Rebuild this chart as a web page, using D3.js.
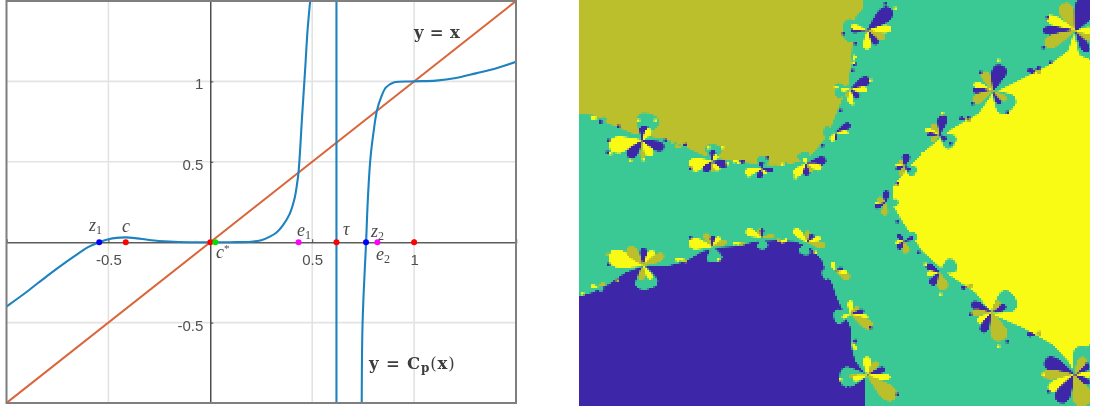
<!DOCTYPE html>
<html>
<head>
<meta charset="utf-8">
<script src="https://cdn.jsdelivr.net/npm/d3@7"></script>
<style>
  body { margin: 0; background: #fff; }
  svg { display: block; }
  .tick text { font-family: "Liberation Sans", Arial, sans-serif; font-size: 15px; fill: #505050; }
  .math { font-family: "Liberation Serif", serif; font-style: italic; font-size: 18px; fill: #4a4a4a; }
  .eq { font-family: "DejaVu Serif", serif; font-weight: bold; font-size: 16.5px; fill: #3c3c3c; }
</style>
</head>
<body>
<script>
// left panel: values
var xTicks = [-0.5, 0.5, 1];
var yTicks = [-0.5, 0.5, 1];

// y = Cp(x), left of the pole
var branchLeftX = [-1, -0.9, -0.8, -0.7, -0.65, -0.6, -0.545, -0.5, -0.46, -0.415, -0.36, -0.3, -0.2, -0.1, 0, 0.1, 0.2, 0.25, 0.29, 0.325, 0.356, 0.389, 0.414, 0.4234, 0.433, 0.4512, 0.466, 0.477, 0.49];
var branchLeftY = [-0.4, -0.308, -0.209, -0.116, -0.072, -0.031, 0, 0.018, 0.027, 0.03, 0.024, 0.014, 0.004, 0, 0, 0, 0.003, 0.012, 0.033, 0.06, 0.105, 0.175, 0.275, 0.343, 0.436, 0.798, 1.087, 1.314, 1.5];
// y = Cp(x), right of the pole
var branchRightX = [0.743, 0.746, 0.752, 0.7645, 0.772, 0.785, 0.8, 0.818, 0.838, 0.862, 0.903, 1, 1.107, 1.205, 1.303, 1.4, 1.5];
var branchRightY = [-1, -0.565, -0.33, 0, 0.24, 0.51, 0.675, 0.82, 0.9, 0.963, 0.994, 1, 1.005, 1.021, 1.05, 1.08, 1.122];
var poleX = 0.619;

var diagonal = [-1, 1.5];

var redPoints = [-0.415, 0, 0.619, 1];
var bluePoints = [-0.545, 0.764];
var magentaPoints = [0.433, 0.82];
var greenPoints = [0.025];

// right panel: basin outlines and flowers, in pixels of the source image
var oliveBasin = [[0,113],[16,115],[26,122],[39,127],[53,133],[63,135],[83,138],[96,142],[109,148],[124,155],[139,158],[156,161],[173,163],[193,165],[213,163],[226,159],[236,150],[244,140],[251,128],[256,115],[261,103],[269,83],[271,67],[273,43],[276,17],[284,7],[284,0],[0,0]];
var navyBasin = [[0,296],[13,292],[29,284],[46,272],[63,266],[86,266],[106,261],[123,251],[139,247],[156,246],[176,241],[196,240],[216,241],[233,249],[243,261],[246,271],[253,284],[256,294],[259,301],[271,327],[271,344],[276,361],[286,374],[286,406],[0,406]];
var yellowBasin = [[494,33],[501,52],[511,60],[511,344],[499,350],[496,374],[489,361],[473,344],[443,327],[413,314],[396,292],[369,274],[343,251],[323,221],[313,204],[313,187],[326,170],[346,150],[373,128],[399,113],[413,93],[439,80],[469,65],[489,50]];

var flowerCenters = [
  [63,140],[133,161],[182,168],[227,163],[288,30],[271,89],[256,132],[413,90],[360,134],[325,166],[306,202],[496,30],
  [495,374],[412,312],[360,272],[325,241],[271,314],[288,375],[256,271],[64,265],[133,246],[182,237],[228,242],
  [19,118],[103,146],[159,161],[203,164],[254,87],[273,60],[456,70],[386,118],[388,287],[456,334],[274,344],[19,286],[103,259],[159,243],[203,240]
];
// petal: [angle in degrees, length, width, basin], 1 navy, 2 teal, 3 olive, 4 yellow
var flowerPetals = [
  [[-75,28,22,2],[-80,15,9,1],[-55,14,6,4],[170,34,16,4],[130,22,10,1],[90,18,4,3],[60,18,8,4],[20,23,9,1]],
  [[-85,17,16,2],[-88,12,5,1],[-55,8,4,4],[170,24,13,4],[130,13,7,1],[90,11,3,3],[55,11,5,4],[15,15,7,1]],
  [[-80,12,12,2],[-90,7,4,1],[165,17,7,4],[105,10,5,1],[50,7,3,4],[10,12,4,1]],
  [[-110,12,12,2],[-10,20,8,1],[18,16,6,4],[135,17,8,4],[90,12,6,1],[55,11,3,3],[-110,6,4,4]],
  [[180,25,22,2],[-42,32,14,1],[-5,24,7,4],[25,19,7,3],[55,17,6,1],[92,19,7,4],[180,17,4,1],[-165,17,5,4]],
  [[175,16,14,2],[-30,22,9,1],[0,17,5,4],[45,12,5,1],[90,14,5,4],[180,10,3,4],[125,9,3,3]],
  [[-175,12,10,2],[-30,17,6,1],[0,13,3,4],[100,8,4,1],[120,9,4,4]],
  [[45,27,22,2],[-70,27,14,1],[-115,21,8,3],[-160,20,6,4],[180,20,5,1],[150,22,9,3],[60,16,5,1],[35,17,5,3]],
  [[35,18,15,2],[-78,20,9,1],[-125,13,6,3],[-160,15,4,4],[180,13,3,1],[140,11,5,3],[40,9,4,1]],
  [[30,13,10,2],[-80,13,7,1],[-135,8,4,3],[-170,9,3,4],[165,9,3,1],[115,10,4,3],[35,7,3,1]],
  [[0,13,6,2],[-85,12,6,1],[-150,9,4,3],[175,11,3,4],[155,12,4,1],[95,13,6,3]],
  [[50,30,24,2],[-115,30,14,3],[-65,34,22,1],[-155,32,9,4],[180,33,8,1],[155,34,12,3],[60,25,8,1],[25,20,8,3],[0,18,6,4]],
  [[-60,30,24,2],[-155,33,14,1],[180,33,9,3],[150,30,10,4],[120,32,14,1],[70,33,20,3],[-35,18,7,1],[-60,20,8,3],[0,18,5,4],[30,18,5,1]],
  [[-35,28,22,2],[-25,16,6,1],[-55,14,5,3],[-155,22,8,1],[180,20,6,3],[145,17,6,4],[115,22,8,1],[70,30,16,3]],
  [[-30,19,14,2],[-150,15,6,1],[175,13,4,4],[125,15,7,1],[75,18,10,3]],
  [[-30,14,9,2],[-135,10,4,1],[170,9,4,4],[135,10,5,1],[80,12,7,3],[-25,10,3,1]],
  [[170,17,14,2],[-90,14,5,4],[-45,11,4,3],[-15,14,4,1],[10,18,5,4],[30,26,9,3],[160,9,3,4]],
  [[175,28,20,2],[-92,19,7,4],[-55,17,6,3],[-22,19,5,1],[5,23,6,4],[40,36,15,3],[178,18,4,3],[165,15,5,4]],
  [[165,14,10,2],[-110,10,4,4],[-25,8,3,1],[25,16,7,3],[5,12,3,4]],
  [[80,24,22,2],[-165,36,17,4],[-130,24,10,3],[-90,18,6,1],[-55,18,7,4],[-28,23,8,3],[100,15,6,3],[60,16,5,4]],
  [[80,16,15,2],[-170,24,11,4],[-120,15,6,3],[-90,11,4,1],[-50,12,5,4],[-20,15,5,3]],
  [[82,12,10,2],[-155,17,7,4],[-110,9,5,3],[-85,9,3,1],[-8,13,4,3]],
  [[110,13,11,2],[-135,19,7,4],[-90,12,4,3],[-55,10,4,1],[-20,14,4,4],[10,18,6,3]],
  [[-170,8,3,4],[10,8,4,2],[60,6,3,1]],[[180,8,3,3],[-30,5,3,1],[20,5,3,2]],[[180,6,2,4],[0,6,3,1]],[[180,6,3,3],[0,5,3,2]],[[0,5,2,4],[180,5,2,3]],[[60,6,3,1],[-60,6,3,4]],
  [[180,8,4,1],[20,6,4,3],[-40,6,3,1]],[[180,6,3,1],[30,6,3,3]],[[180,6,3,1],[-30,6,3,3]],[[180,8,4,1],[-20,6,4,3]],[[60,6,3,4],[-60,6,3,1]],
  [[180,8,3,4],[-30,7,4,3],[45,6,4,2]],[[180,7,3,4],[30,5,3,3]],[[180,6,2,4],[0,6,3,3]],[[180,6,3,3],[0,5,3,4]]
];

// single stray cells along the boundaries: [x, y, basin]
var speckles = [
  [29,140,1],[28,152,1],[31,153,4],[51,160,4],[64,159,4],[59,120,4],[76,120,4],[86,140,1],[93,142,3],[39,126,1],[111,168,1],[129,147,4],[143,147,4],[148,163,4],[159,162,4],[169,175,4],[188,157,1],[203,164,4],[216,177,4],[243,145,1],[253,140,4],
  [316,8,4],[306,3,1],[264,33,1],[276,43,1],[274,62,4],[273,70,1],[291,80,4],[273,103,4],[261,110,1],[419,60,4],[401,72,1],[393,103,1],[389,117,1],[428,112,1],[453,72,1],[471,62,1],[468,17,1],[464,47,1],[363,113,4],[371,143,1],[343,153,4],[318,183,1],
  [318,221,1],[339,252,1],[346,264,4],[361,294,4],[388,286,3],[391,314,1],[419,346,4],[428,341,1],[449,334,1],[469,391,1],[464,374,4],[291,327,1],[274,344,4],[318,394,1],[261,379,4],[269,387,1],
  [29,264,1],[28,254,3],[33,251,4],[76,284,2],[111,237,1],[139,259,4],[159,243,4],[203,241,4],[236,252,4],[3,293,4],[103,259,4],[38,280,3]
];

var basinColors = {1: "#3e26a8", 2: "#3ac895", 3: "#bbbf2b", 4: "#f9fb15"};

// one petal, from its stem to its tip, with length and width 1
var petalOutline = [[0,0],[0.35,0.3],[0.7,0.5],[0.93,0.36],[1,0],[0.93,-0.36],[0.7,-0.5],[0.35,-0.3]];
// the coarse cells eat thin petals, so every petal gets this much extra width
var petalFatten = 1;

var svg = d3.select("body").append("svg")
    .attr("width", 1095)
    .attr("height", 408);

var defs = svg.append("defs");

// set the ranges of the plot
var x = d3.scaleLinear().domain([-1, 1.5]).range([6.5, 516]);
var y = d3.scaleLinear().domain([-1, 1.5]).range([403, 1]);

var plot = svg.append("g").attr("filter", "url(#soft)");

defs.append("clipPath").attr("id", "plotclip").append("rect")
    .attr("x", x(-1)).attr("y", y(1.5))
    .attr("width", x(1.5) - x(-1)).attr("height", y(-1) - y(1.5));
defs.append("filter").attr("id", "soft")
    .attr("filterUnits", "userSpaceOnUse")
    .attr("x", 0).attr("y", 0)
    .attr("width", 560).attr("height", 408)
  .append("feGaussianBlur").attr("stdDeviation", 0.45);

// grid
plot.selectAll(".vgrid").data(xTicks).enter().append("line")
    .attr("x1", x).attr("x2", x)
    .attr("y1", y(-1)).attr("y2", y(1.5))
    .attr("stroke", "#e3e3e3").attr("stroke-width", 1.6);
plot.selectAll(".hgrid").data(yTicks).enter().append("line")
    .attr("x1", x(-1)).attr("x2", x(1.5))
    .attr("y1", y).attr("y2", y)
    .attr("stroke", "#e3e3e3").attr("stroke-width", 1.6);

// axes through the origin
var xAxis = d3.axisBottom(x).tickValues(xTicks).tickFormat(String).tickSize(-3).tickPadding(12);
var yAxis = d3.axisLeft(y).tickValues(yTicks).tickFormat(String).tickSize(-3).tickPadding(7);

var gx = plot.append("g")
    .attr("transform", "translate(0," + y(0) + ")")
    .call(xAxis);
var gy = plot.append("g")
    .attr("transform", "translate(" + x(0) + ",0)")
    .call(yAxis);
gx.select(".domain").attr("stroke", "#5c5c5c").attr("stroke-width", 1.5);
gy.select(".domain").attr("stroke", "#222").attr("stroke-width", 1.2);
gx.selectAll(".tick line").attr("stroke", "#444");
gy.selectAll(".tick line").attr("stroke", "#444");
gy.selectAll(".tick text").attr("dy", "0.5em");

// the curves
var valueline = d3.line()
    .x(function(d) { return x(d[0]); })
    .y(function(d) { return y(d[1]); })
    .curve(d3.curveCatmullRom.alpha(0.5));

var curves = plot.append("g").attr("clip-path", "url(#plotclip)");
curves.append("path")
    .attr("d", valueline(d3.zip(diagonal, diagonal)))
    .attr("fill", "none").attr("stroke", "#d9653a").attr("stroke-width", 2);
[d3.zip(branchLeftX, branchLeftY), [[poleX, -1], [poleX, 1.5]], d3.zip(branchRightX, branchRightY)].forEach(function(branch) {
  curves.append("path")
      .attr("d", valueline(branch))
      .attr("fill", "none").attr("stroke", "#1f82c0").attr("stroke-width", 2.1);
});

// frame
plot.append("rect")
    .attr("x", x(-1)).attr("y", y(1.5))
    .attr("width", x(1.5) - x(-1)).attr("height", y(-1) - y(1.5))
    .attr("fill", "none").attr("stroke", "#7f7f7f").attr("stroke-width", 2);

// points on the axis
function addPoints(values, color) {
  plot.selectAll(".p" + color.slice(1)).data(values).enter().append("circle")
      .attr("cx", x).attr("cy", y(0)).attr("r", 3)
      .attr("fill", color);
}
addPoints(redPoints, "#ff0000");
addPoints(bluePoints, "#0000ff");
addPoints(magentaPoints, "#ff00ff");
addPoints(greenPoints, "#00e000");

// labels on the points
function addMath(px, py, main, sub, sup) {
  var t = plot.append("text").attr("class", "math").attr("x", px).attr("y", py).text(main);
  if (sub) t.append("tspan").attr("font-size", 12).attr("dy", 3).attr("font-style", "normal").text(sub);
  if (sup) t.append("tspan").attr("font-size", 11).attr("dy", -6).attr("font-style", "normal").text(sup);
}
addMath(89, 231, "z", "1");
addMath(122, 232, "c");
addMath(216, 258, "c", null, "*");
addMath(297, 236, "e", "1");
addMath(343, 235, "τ");
addMath(371, 237, "z", "2");
addMath(376, 260, "e", "2");

plot.append("text").attr("class", "eq").attr("x", 414).attr("y", 38).attr("word-spacing", 0.5).text("y = x");
var eq = plot.append("text").attr("class", "eq").attr("x", 369).attr("y", 369).attr("letter-spacing", 0.8).text("y = C");
eq.append("tspan").attr("font-size", 12).attr("dy", 3).text("p");
eq.append("tspan").attr("dy", -3).attr("font-weight", "normal").text("(");
eq.append("tspan").text("x");
eq.append("tspan").attr("font-weight", "normal").text(")");

// right panel
var fx = d3.scaleLinear().domain([0, 511]).range([579, 1090]);
var fy = d3.scaleLinear().domain([0, 406]).range([0, 406]);
var polygon = d3.line()
    .x(function(d) { return fx(d[0]); })
    .y(function(d) { return fy(d[1]); });

// samples the panel on a 2px grid so the edges stay blocky like the source image
var mosaic = defs.append("filter").attr("id", "mosaic")
    .attr("filterUnits", "userSpaceOnUse")
    .attr("x", fx(0)).attr("y", fy(0))
    .attr("width", fx(511) - fx(0)).attr("height", fy(406) - fy(0))
    .attr("color-interpolation-filters", "sRGB");
mosaic.append("feFlood").attr("x", fx(0)).attr("y", 0).attr("width", 1).attr("height", 1).attr("flood-color", "#000");
mosaic.append("feComposite").attr("x", fx(0)).attr("y", 0).attr("width", 2).attr("height", 2);
mosaic.append("feTile").attr("result", "dots");
mosaic.append("feComposite").attr("in", "SourceGraphic").attr("in2", "dots").attr("operator", "in").attr("result", "a");
mosaic.append("feOffset").attr("in", "a").attr("dx", 1).attr("dy", 0).attr("result", "b");
mosaic.append("feOffset").attr("in", "a").attr("dx", 0).attr("dy", 1).attr("result", "c");
mosaic.append("feOffset").attr("in", "a").attr("dx", 1).attr("dy", 1).attr("result", "d");
var merge = mosaic.append("feMerge");
["a", "b", "c", "d"].forEach(function(n) { merge.append("feMergeNode").attr("in", n); });
mosaic.append("feGaussianBlur").attr("stdDeviation", 0.35);

var panel = svg.append("g").attr("filter", "url(#mosaic)");
panel.append("rect")
    .attr("x", fx(0)).attr("y", fy(0))
    .attr("width", fx(511) - fx(0)).attr("height", fy(406) - fy(0))
    .attr("fill", basinColors[2]);

[[oliveBasin, 3], [navyBasin, 1], [yellowBasin, 4]].forEach(function(b) {
  panel.append("path").attr("d", polygon(b[0]) + "Z").attr("fill", basinColors[b[1]]);
});

var petalPath = d3.line().curve(d3.curveCardinalClosed.tension(0.3));
var flowers = panel.append("g");

flowerCenters.forEach(function(c, i) {
  flowers.selectAll(null).data(flowerPetals[i]).enter().append("path")
      .attr("fill", function(p) { return basinColors[p[3]]; })
      .attr("d", function(p) {
        var a = p[0] * Math.PI / 180;
        return petalPath(petalOutline.map(function(q) {
          var along = q[0] * p[1], across = q[1] * (p[2] + petalFatten);
          return [fx(c[0] + along * Math.cos(a) - across * Math.sin(a)),
                  fy(c[1] + along * Math.sin(a) + across * Math.cos(a))];
        }));
      });
});

panel.append("g").selectAll("rect").data(speckles).enter().append("rect")
    .attr("x", function(d) { return fx(d[0]) - 1.5; })
    .attr("y", function(d) { return fy(d[1]) - 1.5; })
    .attr("width", 3).attr("height", 3)
    .attr("fill", function(d) { return basinColors[d[2]]; });
</script>
</body>
</html>
